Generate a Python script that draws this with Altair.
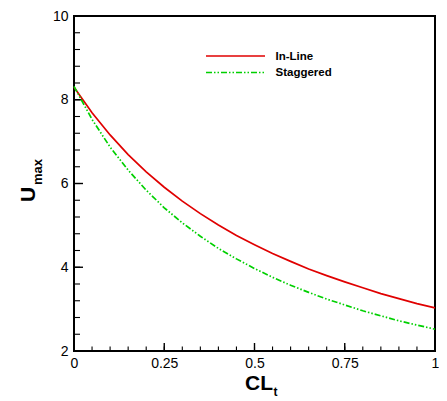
import altair as alt
import pandas as pd

# ---- data ----
cl_t = [0.00, 0.05, 0.10, 0.15, 0.20, 0.25, 0.30, 0.35, 0.40, 0.45, 0.50,
        0.55, 0.60, 0.65, 0.70, 0.75, 0.80, 0.85, 0.90, 0.95, 1.00]
u_inline = [8.30, 7.69, 7.16, 6.69, 6.28, 5.91, 5.58, 5.28, 5.01, 4.76, 4.54,
            4.33, 4.14, 3.96, 3.80, 3.65, 3.51, 3.37, 3.25, 3.13, 3.03]
u_staggered = [8.32, 7.53, 6.87, 6.32, 5.84, 5.42, 5.06, 4.74, 4.45, 4.20, 3.97,
               3.76, 3.57, 3.40, 3.24, 3.10, 2.96, 2.84, 2.72, 2.62, 2.52]
series_names = ["In-Line", "Staggered"]
series_colors = ["#e00000", "#00d000"]

x_major = [0, 0.25, 0.5, 0.75, 1]
x_minor = [round(0.05 * i, 2) for i in range(21)]
y_major = [2, 4, 6, 8, 10]
y_minor = [round(2 + 0.4 * i, 1) for i in range(21)]

W, H = 361, 335
FONT = "Liberation Sans"

rows = []
for x, a, b in zip(cl_t, u_inline, u_staggered):
    rows.append({"x": x, "u": a, "s": series_names[0]})
    rows.append({"x": x, "u": b, "s": series_names[1]})
df = pd.DataFrame(rows)

xs = alt.Scale(domain=[0, 1], nice=False, zero=False)
ys = alt.Scale(domain=[2, 10], nice=False, zero=False)

xaxis = alt.Axis(values=x_major, labelExpr="datum.value == 0 ? '0' : datum.value == 1 ? '1' : format(datum.value, '')",
                 ticks=False, domain=False, grid=False, labelFontSize=14, labelFont=FONT,
                 labelColor="black", labelPadding=5, labelFlush=False, labelOverlap=False, title="")
yaxis = alt.Axis(values=y_major, ticks=False, domain=False, grid=False, labelFontSize=14, labelFont=FONT,
                 labelColor="black", labelPadding=6, labelFlush=False, labelOverlap=False, title="")

inline = alt.Chart(df[df.s == "In-Line"]).mark_line(color=series_colors[0], strokeWidth=1.7).encode(
    x=alt.X("x:Q", scale=xs, axis=xaxis), y=alt.Y("u:Q", scale=ys, axis=yaxis))
stag = alt.Chart(df[df.s == "Staggered"]).mark_line(color=series_colors[1], strokeWidth=1.7,
                                                    strokeDash=[6, 2, 1.5, 2, 1.5, 2]).encode(
    x=alt.X("x:Q", scale=xs), y=alt.Y("u:Q", scale=ys))

xmaj = alt.Chart(pd.DataFrame({"v": x_major})).mark_rule(color="black", strokeWidth=1.4).encode(
    x=alt.X("v:Q", scale=xs), y=alt.value(H), y2=alt.value(H - 8))
xmin = alt.Chart(pd.DataFrame({"v": x_minor})).mark_rule(color="black", strokeWidth=1.1).encode(
    x=alt.X("v:Q", scale=xs), y=alt.value(H), y2=alt.value(H - 4.5))
ymaj = alt.Chart(pd.DataFrame({"v": y_major})).mark_rule(color="black", strokeWidth=1.4).encode(
    y=alt.Y("v:Q", scale=ys), x=alt.value(0), x2=alt.value(9))
ymin = alt.Chart(pd.DataFrame({"v": y_minor})).mark_rule(color="black", strokeWidth=1.1).encode(
    y=alt.Y("v:Q", scale=ys), x=alt.value(0), x2=alt.value(6))

# legend (drawn manually)
leg1 = alt.Chart(pd.DataFrame({"a": [0]})).mark_rule(color=series_colors[0], strokeWidth=1.7).encode(
    x=alt.value(132), x2=alt.value(191), y=alt.value(40))
leg2 = alt.Chart(pd.DataFrame({"a": [0]})).mark_rule(color=series_colors[1], strokeWidth=1.7,
                                                     strokeDash=[6, 2, 1.5, 2, 1.5, 2]).encode(
    x=alt.value(132), x2=alt.value(191), y=alt.value(56.5))
legt1 = alt.Chart(pd.DataFrame({"t": [series_names[0]]})).mark_text(
    align="left", baseline="middle", font=FONT, fontSize=11.5, fontWeight="bold", color="black").encode(
    x=alt.value(201.5), y=alt.value(40.5), text="t:N")
legt2 = alt.Chart(pd.DataFrame({"t": [series_names[1]]})).mark_text(
    align="left", baseline="middle", font=FONT, fontSize=11.5, fontWeight="bold", color="black").encode(
    x=alt.value(201.5), y=alt.value(57), text="t:N")

# axis titles with subscripts
def txt(s, x, y, size, angle=0):
    return alt.Chart(pd.DataFrame({"t": [s]})).mark_text(
        align="left", baseline="alphabetic", font=FONT, fontSize=size, fontWeight="bold",
        color="black", angle=angle).encode(x=alt.value(x), y=alt.value(y), text="t:N")

xt1 = txt("CL", 171, 374, 21)
xt2 = txt("t", 199.5, 380, 12)
yt1 = txt("U", -39, 186, 21, angle=270)
yt2 = txt("max", -32, 169, 13, angle=270)

chart = alt.layer(xmin, xmaj, ymin, ymaj, inline, stag, leg1, leg2, legt1, legt2, xt1, xt2, yt1, yt2).properties(
    width=W, height=H,
    background="white",
    autosize=alt.AutoSizeParams(type="none"),
    padding={"left": 66, "top": 8, "right": 4, "bottom": 48},
).configure_view(stroke="black", strokeWidth=2)

chart.save("out.html", embed_options={"renderer": "svg", "actions": False})
